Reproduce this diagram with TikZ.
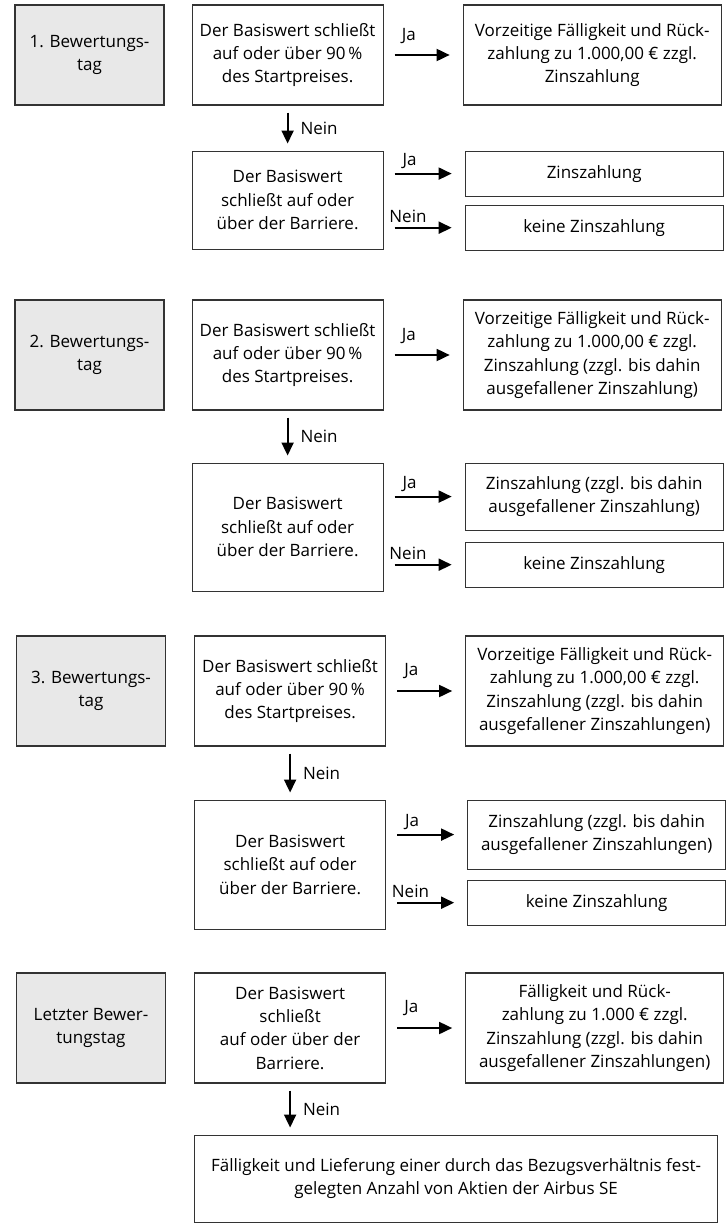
\documentclass[tikz,border=0pt]{standalone}
\usepackage{fontspec}
\setmainfont{Open Sans}
\usetikzlibrary{arrows.meta,positioning}
\definecolor{tagGray}{HTML}{E8E8E8}

\begin{document}
\begin{tikzpicture}[x=1pt, y=-1pt, ->, >={Triangle[length=13pt,width=12pt]}, shorten <=11pt, shorten >=13pt, line width=1.8pt,
    font=\fontsize{17}{23.3}\selectfont,
    tag/.style={draw=black!80, line width=1.1pt, fill=tagGray, minimum width=149pt, minimum height=110pt, align=center},
    cond/.style={draw=black!80, line width=1.1pt, minimum width=191pt, minimum height=110pt, align=center},
    result/.style={draw=black!80, line width=1.1pt, minimum width=258pt, minimum height=110pt, align=center},
    down/.style={shorten <=7pt, shorten >=7pt},
    lbl/.style={inner sep=1pt}]
    \useasboundingbox (0,0) rectangle (726,1223);

    % 1. Bewertungstag
    \node[tag, minimum height=100pt] (g1) at (89.5,55) {1. Bewertungs-\\tag};
    \node[cond, minimum height=100pt] (c1a) [right=27pt of g1] {Der Basiswert schließt\\auf oder über 90\,\%\\des Startpreises.};
    \node[result, minimum height=100pt] (r1a) [right=79pt of c1a] {Vorzeitige Fälligkeit und Rück-\\zahlung zu 1.000,00 € zzgl.\\Zinszahlung};
    \node[cond, minimum height=98pt] (c1b) [below=45pt of c1a] {Der Basiswert\\schließt auf oder\\über der Barriere.};
    \node[result, minimum height=45pt] (r1b) [right=81pt of c1b.north east, anchor=north west] {Zinszahlung};
    \node[result, minimum height=45pt] (r1c) [below=8pt of r1b] {keine Zinszahlung};

    \path (c1a) edge node[lbl, above=9pt, pos=0.32] {Ja} (r1a)
          (c1a) edge[down] node[lbl, right=11pt] {Nein} (c1b);
    \draw (c1b.east |- r1b.west) -- node[lbl, above=3pt, pos=0.32] {Ja} (r1b.west);
    \draw (c1b.east |- r1c.west) -- node[lbl, above=3pt, pos=0.3] {Nein} (r1c.west);

    % 2. Bewertungstag
    \node[tag] (g2) at (89.5,355) {2. Bewertungs-\\tag};
    \node[cond] (c2a) [right=27pt of g2] {Der Basiswert schließt\\auf oder über 90\,\%\\des Startpreises.};
    \node[result] (r2a) [right=79pt of c2a] {Vorzeitige Fälligkeit und Rück-\\zahlung zu 1.000,00 € zzgl.\\Zinszahlung (zzgl. bis dahin\\ausgefallener Zinszahlung)};
    \node[cond, minimum height=128pt] (c2b) [below=52pt of c2a] {Der Basiswert\\schließt auf oder\\über der Barriere.};
    \node[result, minimum height=67pt] (r2b) [right=81pt of c2b.north east, anchor=north west] {Zinszahlung (zzgl. bis dahin\\ausgefallener Zinszahlung)};
    \node[result, minimum height=45pt] (r2c) [below=11pt of r2b] {keine Zinszahlung};

    \path (c2a) edge node[lbl, above=9pt, pos=0.32] {Ja} (r2a)
          (c2a) edge[down] node[lbl, right=11pt] {Nein} (c2b);
    \draw (c2b.east |- r2b.west) -- node[lbl, above=3pt, pos=0.32] {Ja} (r2b.west);
    \draw (c2b.east |- r2c.west) -- node[lbl, above=3pt, pos=0.3] {Nein} (r2c.west);

    % 3. Bewertungstag
    \node[tag] (g3) at (91,691) {3. Bewertungs-\\tag};
    \node[cond] (c3a) [right=28pt of g3] {Der Basiswert schließt\\auf oder über 90\,\%\\des Startpreises.};
    \node[result] (r3a) [right=79pt of c3a] {Vorzeitige Fälligkeit und Rück-\\zahlung zu 1.000,00 € zzgl.\\Zinszahlung (zzgl. bis dahin\\ausgefallener Zinszahlungen)};
    \node[cond, minimum height=129pt] (c3b) [below=53pt of c3a] {Der Basiswert\\schließt auf oder\\über der Barriere.};
    \node[result, minimum height=69pt] (r3b) [right=81pt of c3b.north east, anchor=north west] {Zinszahlung (zzgl. bis dahin\\ausgefallener Zinszahlungen)};
    \node[result, minimum height=45pt] (r3c) [below=10pt of r3b] {keine Zinszahlung};

    \path (c3a) edge node[lbl, above=10pt, pos=0.32] {Ja} (r3a)
          (c3a) edge[down] node[lbl, right=11pt] {Nein} (c3b);
    \draw (c3b.east |- r3b.west) -- node[lbl, above=3pt, pos=0.32] {Ja} (r3b.west);
    \draw (c3b.east |- r3c.west) -- node[lbl, above=3pt, pos=0.3] {Nein} (r3c.west);

    % Letzter Bewertungstag
    \node[tag] (g4) at (91,1028) {Letzter Bewer-\\tungstag};
    \node[cond] (c4) [right=28pt of g4] {Der Basiswert\\schließt\\auf oder über der\\Barriere.};
    \node[result] (r4) [right=79pt of c4] {Fälligkeit und Rück-\\zahlung zu 1.000 € zzgl.\\Zinszahlung (zzgl. bis dahin\\ausgefallener Zinszahlungen)};
    \node[draw=black!80, line width=1.1pt, minimum width=523pt, minimum height=87pt, align=center] (f4) [below=51pt of c4.south west, anchor=north west] {Fälligkeit und Lieferung einer durch das Bezugsverhältnis fest-\\gelegten Anzahl von Aktien der Airbus SE};

    \path (c4) edge node[lbl, above=10pt, pos=0.32] {Ja} (r4)
          (c4) edge[down] node[lbl, right=11pt] {Nein} (c4 |- f4.north);
\end{tikzpicture}
\end{document}
